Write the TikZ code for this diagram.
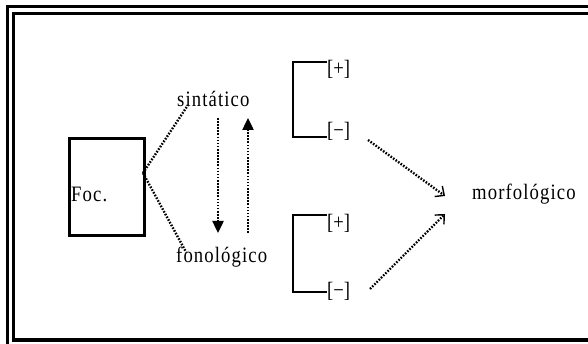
\documentclass[tikz,border=0pt]{standalone}
\usepackage{fontspec}
\setmainfont{Liberation Serif}
\newfontfamily\diagfont[FakeStretch=0.85, LetterSpace=5]{Liberation Serif}
\newfontfamily\featfont[FakeStretch=0.85]{Liberation Serif}
\usetikzlibrary{arrows.meta}
\begin{document}
\begin{tikzpicture}[x=1pt,y=-1pt,
  lbl/.style={font=\diagfont\fontsize{22}{26}\selectfont, inner sep=0pt, anchor=base west},
  feat/.style={font=\featfont\fontsize{22}{26}\selectfont, inner sep=0pt, anchor=base west},
  dots/.style={line width=2.4pt, dash pattern=on 1.6pt off 1.5pt},
  solidtip/.style={-{Triangle[length=12pt,width=11pt]}},
  opentip/.style={-{Straight Barb[length=7pt,width=13pt,line width=1.4pt]}},
  brack/.style={line width=1.6pt},
  focbox/.style={draw, line width=3pt, minimum width=75.5pt, minimum height=97.5pt,
                 inner sep=0pt, anchor=north west}]
\useasboundingbox (0,0) rectangle (588,344);
\clip (0,0) rectangle (588,344);

% double frame
\draw[line width=3pt] (7.5,400) -- (7.5,6.5) -- (700,6.5);
\draw[line width=3.5pt] (13.5,340) rectangle (700,13.5);

% focus box and labels
\node[focbox] (foc) at (67.5,137) {};
\node[lbl] (foctxt) at (71,202) {Foc.};
\node[lbl] (sint) at (177,107) {sintático};
\node[lbl] (fono) at (176,262) {fonológico};
\node[lbl] (morf) at (472,200) {morfológico};

% feature values
\node[feat] (p1) at (327,76) {[+]};
\node[feat] (m1) at (327,138) {[−]};
\node[feat] (p2) at (327,230) {[+]};
\node[feat] (m2) at (327,297) {[−]};

% bracket groups
\draw[brack] (p1.west |- 0,62) -| (293,137) -- (m1.west |- 0,137);
\draw[brack] (p2.west |- 0,215) -| (293,292) -- (m2.west |- 0,292);

% branching from the focus box
\coordinate (fj) at (143,173);
\coordinate (sintend) at (188,105);
\coordinate (fonoend) at (186,252);
\draw[dots] (fj) -- (sintend);
\draw[dots] (fj) -- (fonoend);

% vertical arrows between levels
\coordinate (dtop) at (218,118);
\coordinate (dbot) at (218,233);
\coordinate (utop) at (248,118);
\coordinate (ubot) at (248,233);
\draw[dots, solidtip] (dtop) -- (dbot);
\draw[dots, solidtip] (ubot) -- (utop);

% arrows towards morfologico
\coordinate (a1s) at (368,140);
\coordinate (a1e) at (445,196);
\coordinate (a2s) at (370,289);
\coordinate (a2e) at (445,214);
\draw[dots, opentip] (a1s) -- (a1e);
\draw[dots, opentip] (a2s) -- (a2e);
\end{tikzpicture}
\end{document}
